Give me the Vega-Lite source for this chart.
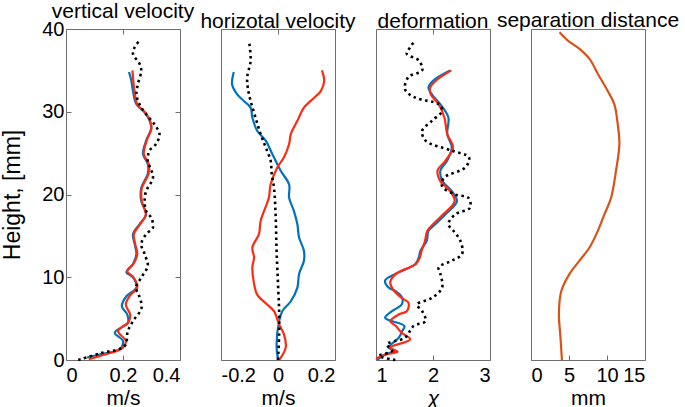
{
  "$schema": "https://vega.github.io/schema/vega-lite/v6.json",
  "padding": {"left": 1, "top": 0, "right": 2, "bottom": 0},
  "bounds": "flush",
  "spacing": 41,
  "config": {
    "font": "Liberation Sans",
    "view": {"stroke": "#6e6e6e", "strokeWidth": 1},
    "axis": {"domain": false, "grid": false, "tickColor": "#6e6e6e", "tickSize": -5, "labelFontSize": 20, "titleFontSize": 21, "titleFontWeight": "normal", "labelColor": "black", "titleColor": "black", "labelPadding": 10, "titlePadding": 2},
    "axisY": {"labelPadding": 7, "titleFontSize": 23, "titlePadding": 17},
    "title": {"fontSize": 21, "fontWeight": "normal", "offset": -3, "baseline": "alphabetic", "frame": "group", "color": "black"}
  },
  "datasets": {
    "p1": [
      {"s":"b","h":0.3,"v":0.074},{"s":"b","h":0.7,"v":0.12},{"s":"b","h":1.3,"v":0.188},{"s":"b","h":2.3,"v":0.2},{"s":"b","h":3.3,"v":0.171},{"s":"b","h":4.5,"v":0.217},{"s":"b","h":5.5,"v":0.215},{"s":"b","h":6.5,"v":0.196},{"s":"b","h":7.7,"v":0.212},{"s":"b","h":8.75,"v":0.247},{"s":"b","h":10,"v":0.235},{"s":"b","h":10.6,"v":0.212},{"s":"b","h":11.6,"v":0.235},{"s":"b","h":12.8,"v":0.247},{"s":"b","h":14,"v":0.241},{"s":"b","h":15.2,"v":0.235},{"s":"b","h":16.4,"v":0.258},{"s":"b","h":17.6,"v":0.281},{"s":"b","h":19.2,"v":0.264},{"s":"b","h":20.8,"v":0.264},{"s":"b","h":22.5,"v":0.287},{"s":"b","h":23.7,"v":0.287},{"s":"b","h":24.9,"v":0.27},{"s":"b","h":26.5,"v":0.281},{"s":"b","h":28.1,"v":0.299},{"s":"b","h":29.7,"v":0.281},{"s":"b","h":30.9,"v":0.247},{"s":"b","h":32.5,"v":0.235},{"s":"b","h":33.8,"v":0.229},{"s":"b","h":34.8,"v":0.221},
      {"s":"r","h":0.1,"v":0.08},{"s":"r","h":0.6,"v":0.13},{"s":"r","h":1.5,"v":0.2},{"s":"r","h":2.3,"v":0.21},{"s":"r","h":3.5,"v":0.183},{"s":"r","h":4.6,"v":0.22},{"s":"r","h":5.5,"v":0.225},{"s":"r","h":6.7,"v":0.21},{"s":"r","h":7.8,"v":0.225},{"s":"r","h":8.75,"v":0.25},{"s":"r","h":10,"v":0.237},{"s":"r","h":10.7,"v":0.215},{"s":"r","h":11.7,"v":0.238},{"s":"r","h":12.8,"v":0.25},{"s":"r","h":14,"v":0.243},{"s":"r","h":15.2,"v":0.238},{"s":"r","h":16.4,"v":0.26},{"s":"r","h":17.6,"v":0.28},{"s":"r","h":19.2,"v":0.266},{"s":"r","h":20.8,"v":0.266},{"s":"r","h":22.5,"v":0.29},{"s":"r","h":23.7,"v":0.29},{"s":"r","h":24.9,"v":0.273},{"s":"r","h":26.5,"v":0.283},{"s":"r","h":28.1,"v":0.3},{"s":"r","h":29.7,"v":0.283},{"s":"r","h":30.9,"v":0.25},{"s":"r","h":32.5,"v":0.24},{"s":"r","h":33.8,"v":0.236},{"s":"r","h":35,"v":0.233},
      {"s":"k","h":0,"v":0.043},{"s":"k","h":0.8,"v":0.12},{"s":"k","h":1.7,"v":0.206},{"s":"k","h":3.5,"v":0.217},{"s":"k","h":4.7,"v":0.235},{"s":"k","h":6.3,"v":0.265},{"s":"k","h":7.9,"v":0.255},{"s":"k","h":8.75,"v":0.245},{"s":"k","h":10,"v":0.265},{"s":"k","h":11.4,"v":0.287},{"s":"k","h":12.8,"v":0.276},{"s":"k","h":14,"v":0.264},{"s":"k","h":15.2,"v":0.281},{"s":"k","h":16,"v":0.305},{"s":"k","h":17.2,"v":0.299},{"s":"k","h":18,"v":0.281},{"s":"k","h":19.2,"v":0.276},{"s":"k","h":20.4,"v":0.281},{"s":"k","h":22,"v":0.305},{"s":"k","h":23,"v":0.299},{"s":"k","h":24,"v":0.287},{"s":"k","h":25.3,"v":0.293},{"s":"k","h":26.1,"v":0.316},{"s":"k","h":27.3,"v":0.328},{"s":"k","h":28.5,"v":0.31},{"s":"k","h":29.7,"v":0.281},{"s":"k","h":30.9,"v":0.258},{"s":"k","h":32.1,"v":0.247},{"s":"k","h":33.3,"v":0.252},{"s":"k","h":35,"v":0.264},{"s":"k","h":35.8,"v":0.258},{"s":"k","h":37,"v":0.235},{"s":"k","h":37.8,"v":0.241},{"s":"k","h":38.6,"v":0.258}
    ],
    "p2": [
      {"s":"b","h":0,"v":0},{"s":"b","h":1.9,"v":-0.005},{"s":"b","h":4.7,"v":0.004},{"s":"b","h":5.9,"v":0.015},{"s":"b","h":7.1,"v":0.045},{"s":"b","h":8.75,"v":0.068},{"s":"b","h":10.4,"v":0.074},{"s":"b","h":12,"v":0.091},{"s":"b","h":13.2,"v":0.091},{"s":"b","h":14.8,"v":0.074},{"s":"b","h":16.4,"v":0.068},{"s":"b","h":18,"v":0.056},{"s":"b","h":19.6,"v":0.039},{"s":"b","h":21.2,"v":0.039},{"s":"b","h":22.9,"v":0.009},{"s":"b","h":24.9,"v":-0.02},{"s":"b","h":26.5,"v":-0.043},{"s":"b","h":27.7,"v":-0.073},{"s":"b","h":29.3,"v":-0.09},{"s":"b","h":30.5,"v":-0.096},{"s":"b","h":31.3,"v":-0.12},{"s":"b","h":32.1,"v":-0.143},{"s":"b","h":33.3,"v":-0.161},{"s":"b","h":34.8,"v":-0.155},
      {"s":"r","h":0,"v":0.004},{"s":"r","h":1.5,"v":0.027},{"s":"r","h":3.1,"v":0.021},{"s":"r","h":4.3,"v":0.004},{"s":"r","h":5.9,"v":-0.014},{"s":"r","h":6.7,"v":-0.038},{"s":"r","h":7.9,"v":-0.073},{"s":"r","h":9.2,"v":-0.084},{"s":"r","h":11.2,"v":-0.09},{"s":"r","h":12.4,"v":-0.084},{"s":"r","h":13.6,"v":-0.09},{"s":"r","h":15.2,"v":-0.067},{"s":"r","h":16.8,"v":-0.061},{"s":"r","h":18,"v":-0.049},{"s":"r","h":19.6,"v":-0.032},{"s":"r","h":21.2,"v":-0.026},{"s":"r","h":23.3,"v":-0.002},{"s":"r","h":24.5,"v":0.021},{"s":"r","h":26.1,"v":0.039},{"s":"r","h":27.3,"v":0.045},{"s":"r","h":28.9,"v":0.068},{"s":"r","h":30.5,"v":0.091},{"s":"r","h":31.7,"v":0.127},{"s":"r","h":32.5,"v":0.15},{"s":"r","h":33.75,"v":0.162},{"s":"r","h":35,"v":0.154},
      {"s":"k","h":0,"v":0},{"s":"k","h":3.1,"v":0.004},{"s":"k","h":5.9,"v":0.004},{"s":"k","h":9.2,"v":0},{"s":"k","h":13.2,"v":-0.005},{"s":"k","h":17.2,"v":-0.008},{"s":"k","h":20.8,"v":-0.014},{"s":"k","h":22.5,"v":-0.022},{"s":"k","h":24.1,"v":-0.026},{"s":"k","h":25.7,"v":-0.043},{"s":"k","h":27.3,"v":-0.061},{"s":"k","h":29.3,"v":-0.079},{"s":"k","h":31.3,"v":-0.096},{"s":"k","h":32.9,"v":-0.106},{"s":"k","h":34.2,"v":-0.108},{"s":"k","h":36.2,"v":-0.096},{"s":"k","h":38.6,"v":-0.102}
    ],
    "p3": [
      {"s":"b","h":0,"v":1.02},{"s":"b","h":0.7,"v":1.16},{"s":"b","h":1.1,"v":1.34},{"s":"b","h":1.5,"v":1.22},{"s":"b","h":2.7,"v":1.4},{"s":"b","h":3.5,"v":1.46},{"s":"b","h":4.1,"v":1.5},{"s":"b","h":5.1,"v":1.16},{"s":"b","h":5.9,"v":1.28},{"s":"b","h":6.7,"v":1.45},{"s":"b","h":7.5,"v":1.46},{"s":"b","h":8.3,"v":1.35},{"s":"b","h":8.75,"v":1.22},{"s":"b","h":9.6,"v":1.16},{"s":"b","h":10.4,"v":1.34},{"s":"b","h":11.6,"v":1.69},{"s":"b","h":12.4,"v":1.75},{"s":"b","h":13.2,"v":1.78},{"s":"b","h":14.4,"v":1.89},{"s":"b","h":15.6,"v":1.92},{"s":"b","h":16.4,"v":2.04},{"s":"b","h":17.6,"v":2.22},{"s":"b","h":19.2,"v":2.42},{"s":"b","h":20.4,"v":2.33},{"s":"b","h":21.7,"v":2.16},{"s":"b","h":22.9,"v":2.13},{"s":"b","h":24.1,"v":2.25},{"s":"b","h":25.7,"v":2.33},{"s":"b","h":27.3,"v":2.25},{"s":"b","h":29.3,"v":2.27},{"s":"b","h":30.9,"v":2.13},{"s":"b","h":32.1,"v":1.98},{"s":"b","h":32.9,"v":1.92},{"s":"b","h":33.75,"v":2.0},{"s":"b","h":35,"v":2.3},
      {"s":"r","h":0.2,"v":1.0},{"s":"r","h":0.7,"v":1.2},{"s":"r","h":1.0,"v":1.38},{"s":"r","h":1.5,"v":1.25},{"s":"r","h":2.5,"v":1.6},{"s":"r","h":3.3,"v":1.45},{"s":"r","h":4.1,"v":1.35},{"s":"r","h":4.7,"v":1.25},{"s":"r","h":5.5,"v":1.4},{"s":"r","h":5.9,"v":1.54},{"s":"r","h":6.9,"v":1.57},{"s":"r","h":7.5,"v":1.45},{"s":"r","h":8.5,"v":1.3},{"s":"r","h":9.4,"v":1.25},{"s":"r","h":10.4,"v":1.35},{"s":"r","h":11.6,"v":1.7},{"s":"r","h":12.4,"v":1.77},{"s":"r","h":13.2,"v":1.8},{"s":"r","h":14.4,"v":1.86},{"s":"r","h":15.6,"v":1.9},{"s":"r","h":16.4,"v":2.0},{"s":"r","h":17.6,"v":2.18},{"s":"r","h":19.2,"v":2.38},{"s":"r","h":20.4,"v":2.3},{"s":"r","h":21.7,"v":2.12},{"s":"r","h":22.9,"v":2.08},{"s":"r","h":24.1,"v":2.22},{"s":"r","h":25.7,"v":2.35},{"s":"r","h":27.3,"v":2.25},{"s":"r","h":29.3,"v":2.2},{"s":"r","h":30.9,"v":2.1},{"s":"r","h":32.1,"v":1.96},{"s":"r","h":32.9,"v":1.95},{"s":"r","h":33.75,"v":2.05},{"s":"r","h":35,"v":2.32},
      {"s":"k","h":0,"v":1.34},{"s":"k","h":0.5,"v":1.05},{"s":"k","h":1.1,"v":1.28},{"s":"k","h":1.9,"v":1.19},{"s":"k","h":2.7,"v":1.51},{"s":"k","h":4.1,"v":1.66},{"s":"k","h":4.7,"v":1.87},{"s":"k","h":5.9,"v":1.81},{"s":"k","h":6.7,"v":1.72},{"s":"k","h":7.5,"v":1.98},{"s":"k","h":8.75,"v":2.16},{"s":"k","h":10.4,"v":2.13},{"s":"k","h":11.2,"v":2.1},{"s":"k","h":12,"v":2.33},{"s":"k","h":12.8,"v":2.51},{"s":"k","h":14.4,"v":2.48},{"s":"k","h":15.6,"v":2.36},{"s":"k","h":16.4,"v":2.27},{"s":"k","h":17.6,"v":2.39},{"s":"k","h":18.4,"v":2.65},{"s":"k","h":19.6,"v":2.62},{"s":"k","h":20,"v":2.39},{"s":"k","h":21,"v":2.16},{"s":"k","h":22,"v":2.19},{"s":"k","h":23.3,"v":2.57},{"s":"k","h":24.5,"v":2.63},{"s":"k","h":25.3,"v":2.33},{"s":"k","h":26.5,"v":1.87},{"s":"k","h":27.7,"v":1.81},{"s":"k","h":28.9,"v":1.98},{"s":"k","h":30.1,"v":2.16},{"s":"k","h":30.9,"v":2.1},{"s":"k","h":31.7,"v":1.69},{"s":"k","h":32.7,"v":1.51},{"s":"k","h":34.2,"v":1.57},{"s":"k","h":35,"v":1.81},{"s":"k","h":36.2,"v":1.75},{"s":"k","h":37,"v":1.54},{"s":"k","h":37.8,"v":1.6},{"s":"k","h":38.7,"v":1.69}
    ],
    "p4": [
      {"s":"o","h":0,"v":4.07},{"s":"o","h":3.1,"v":3.85},{"s":"o","h":5.5,"v":3.67},{"s":"o","h":8.3,"v":3.98},{"s":"o","h":10.4,"v":5.07},{"s":"o","h":12,"v":6.38},{"s":"o","h":13.6,"v":7.7},{"s":"o","h":15.6,"v":8.79},{"s":"o","h":17.6,"v":9.66},{"s":"o","h":19.6,"v":10.54},{"s":"o","h":22.9,"v":11.19},{"s":"o","h":26.1,"v":11.63},{"s":"o","h":28.5,"v":11.41},{"s":"o","h":30.9,"v":10.97},{"s":"o","h":32.5,"v":10.1},{"s":"o","h":34.6,"v":8.79},{"s":"o","h":36.4,"v":7.7},{"s":"o","h":37.6,"v":6.38},{"s":"o","h":38.6,"v":4.85},{"s":"o","h":39.6,"v":3.76}
    ]
  },
  "hconcat": [
    {
      "width": 114, "height": 331,
      "title": "vertical velocity",
      "data": {"name": "p1"},
      "layer": [
        {
          "transform": [{"filter": "datum.s != 'k'"}],
          "mark": {"type": "line", "interpolate": "catmull-rom", "strokeWidth": 2.2},
          "encoding": {
            "x": {"field": "v", "type": "quantitative", "scale": {"domain": [0, 0.4]}, "axis": {"values": [0, 0.2, 0.4], "format": "~g", "title": "m/s"}},
            "y": {"field": "h", "type": "quantitative", "scale": {"domain": [0, 40]}, "axis": {"values": [0, 10, 20, 30, 40], "title": "Height, [mm]"}},
            "color": {"field": "s", "type": "nominal", "scale": {"domain": ["b", "r"], "range": ["#0072BD", "#FF2A10"]}, "legend": null},
            "order": {"field": "h", "type": "quantitative"}
          }
        },
        {
          "transform": [{"filter": "datum.s == 'k'"}],
          "mark": {"type": "line", "interpolate": "catmull-rom", "strokeWidth": 2.6, "color": "black", "strokeDash": [2.5, 3.5]},
          "encoding": {
            "x": {"field": "v", "type": "quantitative", "scale": {"domain": [0, 0.4]}, "axis": {"orient": "top", "values": [0, 0.2, 0.4], "labels": false, "title": null}},
            "y": {"field": "h", "type": "quantitative", "scale": {"domain": [0, 40]}, "axis": {"orient": "right", "values": [0, 10, 20, 30, 40], "labels": false, "title": null}},
            "order": {"field": "h", "type": "quantitative"}
          }
        }
      ],
      "resolve": {"axis": {"x": "independent", "y": "independent"}}
    },
    {
      "width": 114, "height": 331,
      "title": "horizotal velocity",
      "data": {"name": "p2"},
      "layer": [
        {
          "transform": [{"filter": "datum.s != 'k'"}],
          "mark": {"type": "line", "interpolate": "catmull-rom", "strokeWidth": 2.2},
          "encoding": {
            "x": {"field": "v", "type": "quantitative", "scale": {"domain": [-0.2, 0.2]}, "axis": {"values": [-0.2, 0, 0.2], "labelExpr": "datum.value == 0 ? '0' : (datum.value < 0 ? '-' : '') + format(abs(datum.value), '.1f')", "title": "m/s"}},
            "y": {"field": "h", "type": "quantitative", "scale": {"domain": [0, 40]}, "axis": null},
            "color": {"field": "s", "type": "nominal", "scale": {"domain": ["b", "r"], "range": ["#0072BD", "#FF0000"]}, "legend": null},
            "order": {"field": "h", "type": "quantitative"}
          }
        },
        {
          "transform": [{"filter": "datum.s == 'k'"}],
          "mark": {"type": "line", "interpolate": "catmull-rom", "strokeWidth": 2.6, "color": "black", "strokeDash": [2.5, 3.5]},
          "encoding": {
            "x": {"field": "v", "type": "quantitative", "scale": {"domain": [-0.2, 0.2]}, "axis": {"orient": "top", "values": [-0.2, 0, 0.2], "labels": false, "title": null}},
            "y": {"field": "h", "type": "quantitative", "scale": {"domain": [0, 40]}, "axis": null},
            "order": {"field": "h", "type": "quantitative"}
          }
        }
      ],
      "resolve": {"axis": {"x": "independent"}}
    },
    {
      "width": 114, "height": 331,
      "title": "deformation",
      "data": {"name": "p3"},
      "layer": [
        {
          "transform": [{"filter": "datum.s != 'k'"}],
          "mark": {"type": "line", "interpolate": "catmull-rom", "strokeWidth": 2.2},
          "encoding": {
            "x": {"field": "v", "type": "quantitative", "scale": {"domain": [1, 3]}, "axis": {"values": [1, 2, 3], "format": "~g", "title": "χ", "titleFontStyle": "italic"}},
            "y": {"field": "h", "type": "quantitative", "scale": {"domain": [0, 40]}, "axis": null},
            "color": {"field": "s", "type": "nominal", "scale": {"domain": ["b", "r"], "range": ["#0072BD", "#FF2A10"]}, "legend": null},
            "order": {"field": "h", "type": "quantitative"}
          }
        },
        {
          "transform": [{"filter": "datum.s == 'k'"}],
          "mark": {"type": "line", "interpolate": "catmull-rom", "strokeWidth": 2.6, "color": "black", "strokeDash": [2.5, 3.5]},
          "encoding": {
            "x": {"field": "v", "type": "quantitative", "scale": {"domain": [1, 3]}, "axis": {"orient": "top", "values": [1, 2, 3], "labels": false, "title": null}},
            "y": {"field": "h", "type": "quantitative", "scale": {"domain": [0, 40]}, "axis": null},
            "order": {"field": "h", "type": "quantitative"}
          }
        }
      ],
      "resolve": {"axis": {"x": "independent"}}
    },
    {
      "width": 114, "height": 331,
      "title": "separation distance",
      "data": {"name": "p4"},
      "mark": {"type": "line", "interpolate": "catmull-rom", "strokeWidth": 2.2, "color": "#D95319"},
      "encoding": {
        "x": {"field": "v", "type": "quantitative", "scale": {"domain": [0, 15]}, "axis": {"values": [0, 5, 10, 15], "format": "~g", "title": "mm"}},
        "y": {"field": "h", "type": "quantitative", "scale": {"domain": [0, 40]}, "axis": null},
        "order": {"field": "h", "type": "quantitative"}
      }
    }
  ]
}
